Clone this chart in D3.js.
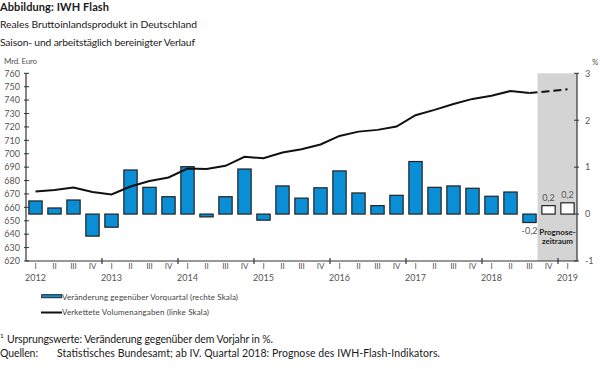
<!DOCTYPE html>
<html>
<head>
<meta charset="utf-8">
<script src="https://cdn.jsdelivr.net/npm/d3@7"></script>
<style>
  body { margin: 0; background: #fff; }
  text { font-family: Lato, "Open Sans", sans-serif; }
</style>
</head>
<body>
<svg id="chart" width="600" height="369"></svg>
<script>
// quarters 2012 I .. 2019 I
const years = [2012, 2013, 2014, 2015, 2016, 2017, 2018, 2019];
const quarterNames = ['I', 'II', 'III', 'IV'];
// change on previous quarter in % (right scale)
const changes = [
  0.28, 0.13, 0.30, -0.47,
  -0.28, 0.94, 0.57, 0.37,
  1.01, -0.06, 0.37, 0.96,
  -0.13, 0.60, 0.34, 0.56,
  0.92, 0.45, 0.18, 0.40,
  1.12, 0.57, 0.60, 0.55,
  0.38, 0.47, -0.18, 0.18,
  0.24
];
// chained volume, bn euro (left scale)
const levels = [
  671.8, 672.9, 674.8, 671.4,
  669.6, 675.6, 679.6, 682.3,
  689.0, 688.7, 691.0, 697.7,
  696.7, 700.9, 703.4, 706.9,
  713.3, 716.5, 717.8, 720.3,
  728.7, 732.7, 737.1, 740.9,
  743.3, 746.8, 745.3, 746.6,
  748.1
];
const forecastStart = 27;
const leftTicks = [620, 630, 640, 650, 660, 670, 680, 690, 700, 710, 720, 730, 740, 750, 760];
const rightTicks = [-1, 0, 1, 2, 3];
const barLabels = [[26, '-0,2'], [27, '0,2'], [28, '0,2']];

const keys = changes.map((d, i) => years[Math.floor(i / 4)] + '-' + quarterNames[i % 4]);

const svg = d3.select('#chart');
const pLeft = 26, pRight = 577, pTop = 73.3, pBottom = 261;

const x = d3.scaleBand().domain(keys).range([pLeft, pRight]).paddingInner(0.3).paddingOuter(0.15);
const yL = d3.scaleLinear().domain([620, 760]).range([pBottom, pTop]);
const yR = d3.scaleLinear().domain([-1, 3]).range([pBottom, pTop]);
const step = x.step();

// text helper, stretches to the width measured on the original
function label(tx, ty, size, str, width, color, bold) {
  const t = svg.append('text').attr('x', tx).attr('y', ty).attr('font-size', size)
    .attr('fill', color || '#1a1a1a').text(str);
  if (bold) t.attr('font-weight', 'bold');
  if (width) t.attr('textLength', width).attr('lengthAdjust', 'spacing');
  return t;
}

// titles
label(0, 11, 11, 'Abbildung: IWH Flash', 109, '#1a1a1a', true);
label(0, 28, 10.3, 'Reales Bruttoinlandsprodukt in Deutschland', 197);
label(0, 46, 10.3, 'Saison- und arbeitstäglich bereinigter Verlauf', 195);

// forecast shading
const shadeX = x(keys[forecastStart]) - 0.3 * step / 2 - 1.5;
svg.append('rect')
  .attr('x', shadeX)
  .attr('y', pTop)
  .attr('width', pRight - shadeX)
  .attr('height', pBottom - pTop)
  .attr('fill', '#d4d4d4');

// bars
svg.selectAll('.bar')
  .data(changes)
  .enter()
  .append('rect')
  .attr('class', 'bar')
  .attr('x', (d, i) => x(keys[i]))
  .attr('width', x.bandwidth())
  .attr('y', d => yR(Math.max(0, d)))
  .attr('height', d => Math.abs(yR(d) - yR(0)))
  .attr('fill', (d, i) => i >= forecastStart ? '#ffffff' : '#0a8fd6')
  .attr('stroke', '#222')
  .attr('stroke-width', 1.2);

// line
const line = d3.line()
  .x(d => x(keys[d.i]) + x.bandwidth() / 2)
  .y(d => yL(d.v));
const pts = levels.map((v, i) => ({ i: i, v: v }));
svg.append('path')
  .datum(pts.slice(0, forecastStart))
  .attr('d', line)
  .attr('fill', 'none').attr('stroke', '#111').attr('stroke-width', 2);
svg.append('path')
  .datum(pts.slice(forecastStart - 1))
  .attr('d', line)
  .attr('fill', 'none').attr('stroke', '#111').attr('stroke-width', 2)
  .attr('stroke-dasharray', '8,4');

// left axis
svg.append('line').attr('x1', pLeft).attr('x2', pLeft).attr('y1', pTop).attr('y2', pBottom)
  .attr('stroke', '#333').attr('stroke-width', 1.2);
leftTicks.forEach(t => {
  svg.append('line').attr('x1', pLeft - 2).attr('x2', pLeft + 3).attr('y1', yL(t)).attr('y2', yL(t))
    .attr('stroke', '#333').attr('stroke-width', 1);
  svg.append('text').attr('x', 20).attr('y', yL(t) + 3.3).attr('text-anchor', 'end')
    .attr('font-size', 9).attr('fill', '#555').text(t);
});
label(4, 64, 8, 'Mrd. Euro', 33, '#555');

// right axis
svg.append('line').attr('x1', pRight).attr('x2', pRight).attr('y1', pTop).attr('y2', pBottom)
  .attr('stroke', '#333').attr('stroke-width', 1.2);
rightTicks.forEach(t => {
  svg.append('line').attr('x1', pRight - 3).attr('x2', pRight + 2).attr('y1', yR(t)).attr('y2', yR(t))
    .attr('stroke', '#333').attr('stroke-width', 1);
  svg.append('text').attr('x', 585).attr('y', yR(t) + 3.3)
    .attr('font-size', 9).attr('fill', '#555').text(t);
});
label(592, 65, 8, '%', null, '#555');

// x axis
svg.append('line').attr('x1', pLeft).attr('x2', pRight).attr('y1', pBottom).attr('y2', pBottom)
  .attr('stroke', '#333').attr('stroke-width', 1.2);
keys.forEach((k, i) => {
  const cx = x(k) + x.bandwidth() / 2;
  if (i % 4 === 0 && i > 0) {
    const tx = x(k) - step * x.paddingInner() / 2;
    svg.append('line').attr('x1', tx).attr('x2', tx).attr('y1', pBottom - 3).attr('y2', pBottom + 3)
      .attr('stroke', '#333').attr('stroke-width', 1.2);
  }
  svg.append('text').attr('x', cx).attr('y', 269).attr('text-anchor', 'middle')
    .attr('font-size', 8).attr('fill', '#555').text(quarterNames[i % 4]);
  if (i % 4 === 0) {
    svg.append('text').attr('x', cx).attr('y', 281).attr('text-anchor', 'middle')
      .attr('font-size', 9).attr('fill', '#555').text(years[i / 4]);
  }
});

// bar value labels
barLabels.forEach(b => {
  const i = b[0], v = changes[i];
  const cx = x(keys[i]) + x.bandwidth() / 2;
  svg.append('text').attr('x', cx).attr('y', v < 0 ? 234 : yR(v) - 5)
    .attr('text-anchor', 'middle').attr('font-size', 9).attr('fill', '#555').text(b[1]);
});
svg.append('text').attr('x', 557.5).attr('y', 235).attr('text-anchor', 'middle')
  .attr('font-size', 8).attr('font-weight', 'bold').attr('fill', '#222').text('Prognose-');
svg.append('text').attr('x', 557.5).attr('y', 243.5).attr('text-anchor', 'middle')
  .attr('font-size', 8).attr('font-weight', 'bold').attr('fill', '#222').text('zeitraum');

// legend
svg.append('rect').attr('x', 41.7).attr('y', 294.7).attr('width', 20).attr('height', 3)
  .attr('fill', '#0a8fd6').attr('stroke', '#222').attr('stroke-width', 1);
label(62, 300, 8, 'Veränderung gegenüber Vorquartal (rechte Skala)', 176, '#444');
svg.append('line').attr('x1', 41).attr('x2', 62).attr('y1', 312.5).attr('y2', 312.5)
  .attr('stroke', '#111').attr('stroke-width', 2);
label(62, 315, 8, 'Verkettete Volumenangaben (linke Skala)', 147, '#444');

// notes
label(0, 338, 6.5, '1');
label(7, 343, 10.5, 'Ursprungswerte: Veränderung gegenüber dem Vorjahr in %.', 266);
label(0, 357, 10.5, 'Quellen:', 38);
label(57, 357, 10.5, 'Statistisches Bundesamt; ab IV. Quartal 2018: Prognose des IWH-Flash-Indikators.', 383);
</script>
</body>
</html>
